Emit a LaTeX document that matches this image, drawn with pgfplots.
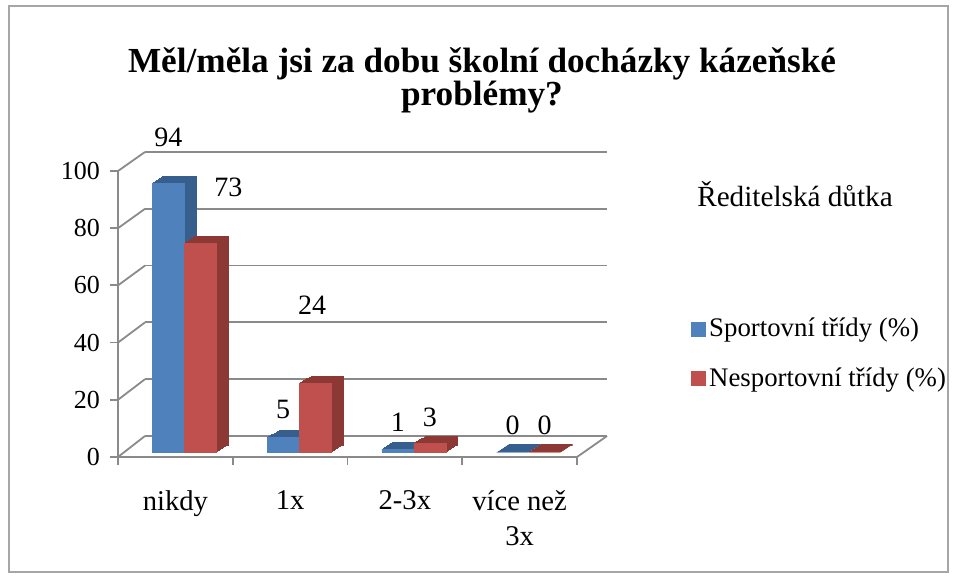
\documentclass[border=0pt]{standalone}
\usepackage{fontspec}
\setmainfont{Liberation Serif}
\usepackage{pgfplots}
\usepackage{pgfplotstable}
\pgfplotsset{compat=1.18}
\definecolor{bluef}{HTML}{4F81BD}
\definecolor{blued}{HTML}{375F8E}
\definecolor{redf}{HTML}{C0504D}
\definecolor{redd}{HTML}{8C3835}
\definecolor{gridc}{HTML}{8A8A8A}

\pgfplotstableread{
x y xo yo
0 94 0 23
1 5 0 14
2 1 0 13.5
3 0 0 13.5
}\sport
\pgfplotstableread{
x y xo yo
0 73 14 28
1 24 -1.5 39
2 3 0 13
3 0 0 13.5
}\nesport

\pgfplotsset{
 common/.style={width=229.5pt, height=143pt, scale only axis, xmin=-0.5, xmax=3.5, ymin=0, ymax=100, clip=false, anchor=south west},
 hidden/.style={common, axis line style={draw=none}, tick style={draw=none}, xtick=\empty, ytick=\empty},
}

\begin{document}
\begin{tikzpicture}
\useasboundingbox (0,0) rectangle (478.5pt,288.5pt);
\fill[white] (0,0) rectangle (478.5pt,288.5pt);
\draw[gray!70, line width=0.8pt] (4.5pt,2.5pt) rectangle (474pt,285.5pt);

\node[font=\bfseries\fontsize{17.6}{16.5}\selectfont, align=center] at (241pt,248.5pt)
 {Měl/měla jsi za dobu školní docházky kázeňské\\problémy?};
\node[font=\fontsize{14.6}{14.6}\selectfont] at (397.5pt,191.5pt) {Ředitelská důtka};

% back wall
\begin{axis}[common, at={(72.5pt,70.5pt)}, width=231pt, height=142pt,
  axis line style={draw=none}, tick style={draw=none}, xtick=\empty,
  ytick={0,20,...,100}, yticklabels={}, ymajorgrids,
  grid style={gridc, line width=0.9pt}]
\end{axis}
% left wall and floor edges
\foreach \v in {0,20,...,100}
  \draw[gridc, line width=0.9pt] (59pt,{(60+1.43*\v)*1pt}) -- (72.5pt,{(70.5+1.42*\v)*1pt});
\draw[gridc, line width=0.9pt] (288.5pt,60pt) -- (303.5pt,70.5pt);

% extrusion (depth) of the bars
\foreach \k in {8,7,...,1}{
\begin{axis}[hidden, at={({(63.5+0.75*\k)*1pt},{(62.5+0.4375*\k)*1pt})}, ybar=0pt, bar width=16pt]
\addplot[fill=blued, draw=blued, line width=0.6pt] table[x=x,y=y]{\sport};
\addplot[draw=none, fill=none] table[x=x,y=y]{\nesport};
\end{axis}
}
\foreach \k in {8,7,...,1}{
\begin{axis}[hidden, at={({(63.5+0.75*\k)*1pt},{(62.5+0.4375*\k)*1pt})}, ybar=0pt, bar width=16pt]
\addplot[draw=none, fill=none] table[x=x,y=y]{\sport};
\addplot[fill=redd, draw=redd, line width=0.6pt] table[x=x,y=y]{\nesport};
\end{axis}
}

% front axis with ticks and labels
\begin{axis}[common, at={(59pt,60pt)},
  axis x line*=bottom, axis y line*=left,
  x axis line style={-}, y axis line style={-},
  axis line style={gridc, line width=0.9pt},
  tick style={gridc, line width=0.9pt},
  tick align=outside, major tick length=4pt,
  ytick={0,20,...,100},
  yticklabel style={font=\fontsize{13}{13}\selectfont, text=black, xshift=-1.5pt},
  /pgf/number format/assume math mode=true,
  xtick={-0.5,0.5,1.5,2.5,3.5}, xticklabels={},
  extra x ticks={0,1,2,3},
  extra x tick labels={nikdy,1x,2-3x,{více než\\3x}},
  extra x tick style={major tick length=0pt,
    xticklabel style={align=center, yshift=-13.5pt, text=black, font=\fontsize{14.3}{17.5}\selectfont}},
  ]
\end{axis}

% bars (front faces)
\begin{axis}[hidden, at={(63.5pt,62.5pt)}, ybar=0pt, bar width=16pt,
  legend image code/.code={\fill[#1] (0pt,-3.5pt) rectangle (7pt,3.5pt);},
  legend style={at={(1.214,0.497)}, anchor=north west, draw=none, fill=none,
    font=\fontsize{13.4}{13.4}\selectfont, row sep=10pt},
  legend cell align=left,
  nodes near coords,
  /pgf/number format/assume math mode=true,
  visualization depends on={\thisrow{xo} \as \xo},
  visualization depends on={\thisrow{yo} \as \yo},
  every node near coord/.append style={anchor=center, xshift=\xo*1pt, yshift=\yo*1pt,
    font=\fontsize{14}{14}\selectfont, text=black},
  ]
\addplot[fill=bluef, draw=bluef, line width=0.3pt] table[x=x,y=y]{\sport};
\addplot[fill=redf, draw=redf, line width=0.3pt] table[x=x,y=y]{\nesport};
\legend{Sportovní třídy (\%), Nesportovní třídy (\%)}
\end{axis}
\end{tikzpicture}
\end{document}
